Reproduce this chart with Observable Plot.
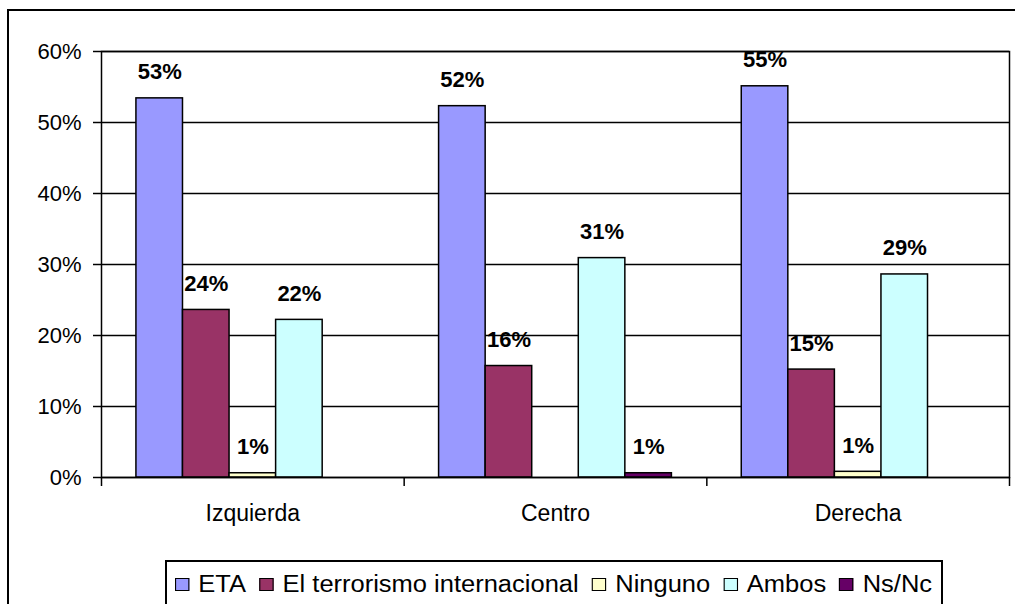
<!DOCTYPE html>
<html>
<head>
<meta charset="utf-8">
<script src="https://cdn.jsdelivr.net/npm/d3@7"></script>
<script src="https://cdn.jsdelivr.net/npm/@observablehq/plot@0.6"></script>
<style>
  html, body { margin: 0; padding: 0; background: #fff; }
  body { width: 1015px; height: 604px; overflow: hidden; position: relative;
         font-family: "Liberation Sans", Arial, sans-serif; }
  #chart { position: absolute; left: 0; top: 0; }
  #outer { position: absolute; left: 7px; top: 9px; width: 1100px; height: 700px;
           border: 2px solid #000; pointer-events: none; }
  #legend { position: absolute; left: 165px; top: 560px; width: 778px; height: 70px;
            border: 2px solid #000; box-sizing: border-box; background: #fff; overflow: hidden; }
  #legend .inner { position: absolute; left: 8px; top: 0; height: 44px; display: flex;
                   align-items: center; white-space: nowrap; transform-origin: left center;
                   font-size: 23px; color: #000; }
  #legend .sw { display: inline-block; width: 13px; height: 13px; box-sizing: border-box;
                border: 1.5px solid #000; margin-right: 8px; }
  #legend .item { display: flex; align-items: center; margin-right: 12px; }
  #legend .item:last-child { margin-right: 0; }
</style>
</head>
<body>
<div id="chart"></div>
<div id="legend"><div class="inner"></div></div>
<div id="outer"></div>
<script>
// ---- data ----
const categories = ["Izquierda", "Centro", "Derecha"];
const series = ["ETA", "El terrorismo internacional", "Ninguno", "Ambos", "Ns/Nc"];
const colors = ["#9999FF", "#993366", "#FFFFCC", "#CCFFFF", "#660066"];
const etaValues = [53.4, 52.3, 55.1];
const terrorismoValues = [23.6, 15.7, 15.2];
const ningunoValues = [0.6, 0, 0.8];
const ambosValues = [22.2, 30.9, 28.6];
const nsncValues = [0, 0.6, 0];
const yTicks = [0, 10, 20, 30, 40, 50, 60];

const valuesBySeries = [etaValues, terrorismoValues, ningunoValues, ambosValues, nsncValues];

// Excel-style clustered layout: gap width 150% of a bar
const gap = 1.5;
const span = series.length + gap;
const rows = categories.flatMap((c, ci) =>
  series.map((s, si) => ({
    category: c,
    series: s,
    value: valuesBySeries[si][ci],
    x1: ci * span + gap / 2 + si,
    x2: ci * span + gap / 2 + si + 1
  }))
);
const boundaries = d3.range(categories.length + 1).map(i => i * span);
const centers = categories.map((c, i) => i * span + span / 2);
const fmt = d3.format(".0%");

const plot = Plot.plot({
  width: 1015,
  height: 545,
  marginLeft: 101,
  marginRight: 6,
  marginTop: 51,
  marginBottom: 68,
  x: { domain: [0, categories.length * span], axis: null, label: null },
  y: { domain: [0, 60], axis: null, label: null },
  color: { domain: series, range: colors },
  style: { fontFamily: "'Liberation Sans', Arial, sans-serif", fontSize: "22px", color: "#000", background: "transparent", overflow: "visible" },
  marks: [
    Plot.gridY({ ticks: yTicks, stroke: "#000", strokeOpacity: 1, strokeWidth: 1.5 }),
    Plot.rectY(rows.filter(d => d.value > 0), {
      x1: "x1", x2: "x2", y: "value", fill: "series", stroke: "#000", strokeWidth: 1.5
    }),
    Plot.frame({ stroke: "#000", strokeWidth: 1.5 }),
    Plot.axisY({ ticks: yTicks, label: null, tickFormat: d => d + "%", tickSize: 8, tickPadding: 12, fontSize: 22, strokeWidth: 1.5 }),
    Plot.axisX({ ticks: boundaries, label: null, tickFormat: () => "", tickSize: 9, strokeWidth: 1.5 }),
    Plot.axisX({ ticks: centers, label: null, tickFormat: d => categories[Math.round((d - span / 2) / span)], tickSize: 0, tickPadding: 27, fontSize: 23 }),
    Plot.text(rows.filter(d => d.value > 0), {
      x: d => (d.x1 + d.x2) / 2,
      y: "value",
      text: d => fmt(d.value / 100),
      dy: -26,
      fontWeight: "bold",
      fontSize: 22,
      fill: "#000"
    })
  ]
});
document.getElementById("chart").appendChild(plot);

// ---- legend ----
const inner = document.querySelector("#legend .inner");
series.forEach((s, i) => {
  const item = document.createElement("span");
  item.className = "item";
  const sw = document.createElement("span");
  sw.className = "sw";
  sw.style.background = colors[i];
  const t = document.createElement("span");
  t.textContent = s;
  item.appendChild(sw);
  item.appendChild(t);
  inner.appendChild(item);
});
// stretch horizontally to the reference span of the legend row
const target = 757;
const w = inner.scrollWidth;
inner.style.transform = `scaleX(${target / w})`;
</script>
</body>
</html>
